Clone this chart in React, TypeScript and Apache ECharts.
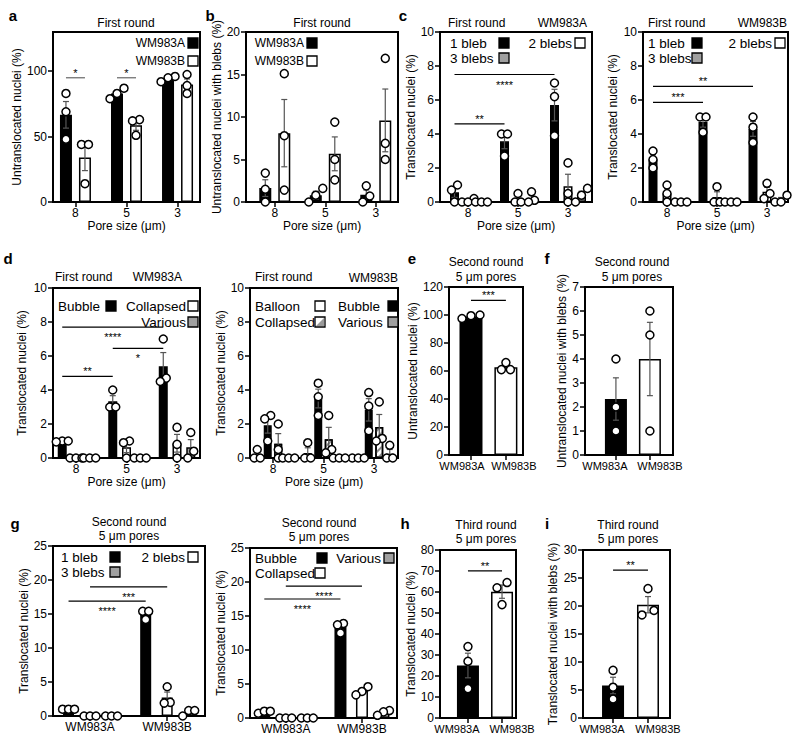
import React, { useEffect, useRef } from 'react';
import * as echarts from 'echarts';

const FONT = '"Liberation Sans", Arial, Helvetica, sans-serif';
const BLACK = '#000000';
const WHITE = '#ffffff';
const GRAY = '#a0a0a0';

// ---------- categories ----------
const poreSizes = ['8', '5', '3'];
const cellLines = ['WM983A', 'WM983B'];

// ---------- tick labels ----------
const ticksA = [0, 50, 100];
const ticksB = [0, 5, 10, 15, 20];
const ticks0to10 = [0, 2, 4, 6, 8, 10];
const ticksE = [0, 20, 40, 60, 80, 100, 120];
const ticksF = [0, 1, 2, 3, 4, 5, 6, 7];
const ticksG = [0, 5, 10, 15, 20, 25];
const ticksH = [0, 10, 20, 30, 40, 50, 60, 70, 80];
const ticksI = [0, 5, 10, 15, 20, 25, 30];

// ---------- replicate values: [category][replicate] ----------
// a: untranslocated nuclei (%)
const aWM983A = [[83, 69, 48], [87, 83, 79], [96, 95, 92]];
const aWM983B = [[44, 44, 14], [63, 62, 51], [97.5, 89, 83]];
// b: untranslocated nuclei with blebs (%)
const bWM983A = [[3.4, 1.5, 0], [1.6, 0.8, 0], [1.9, 0.7, 0]];
const bWM983B = [[15.1, 7.8, 1.4], [9.4, 5.0, 2.6], [16.9, 6.9, 5.0]];
// c: WM983A, translocated nuclei (%)
const cA1bleb = [[1.0, 0.7, 0], [4.0, 4.0, 2.7], [7.0, 6.2, 3.9]];
const cA2blebs = [[0.2, 0, 0], [0.5, 0, 0], [2.3, 0.5, 0]];
const cA3blebs = [[0, 0, 0], [0.6, 0.1, 0], [0.8, 0.4, 0]];
// c: WM983B
const cB1bleb = [[3.0, 2.5, 2.0], [5.0, 5.0, 4.1], [5.0, 4.4, 3.5]];
const cB2blebs = [[1.0, 0.5, 0], [0.9, 0, 0], [1.1, 0.5, 0.2]];
const cB3blebs = [[0, 0, 0], [0, 0, 0], [0.4, 0, 0]];
// d: WM983A
const dABubble = [[1.0, 1.0, 0.95], [4.0, 3.0, 3.0], [7.0, 4.7, 4.5]];
const dACollapsed = [[0, 0, 0], [1.0, 0.9, 0], [1.8, 0.8, 0]];
const dAVarious = [[0, 0, 0], [0, 0, 0], [1.5, 0.4, 0]];
// d: WM983B
const dBBalloon = [[0.5, 0, 0], [0.9, 0, 0], [0, 0, 0]];
const dBBubble = [[2.5, 2.3, 1.0], [4.4, 3.6, 2.5], [3.85, 3.05, 1.6]];
const dBCollapsed = [[2.0, 0.5, 0], [2.5, 0.5, 0.3], [3.3, 1.15, 1.0]];
const dBVarious = [[0, 0, 0], [0, 0, 0], [0.75, 0, 0]];
// e: untranslocated nuclei (%), second round
const eUntranslocated = [[97.5, 100, 99.5], [66, 61, 61]];
// f: untranslocated nuclei with blebs (%), second round
const fWithBlebs = [[4, 2, 1], [6, 5, 1]];
// g: translocated nuclei (%), second round
const g1bleb = [[1.0, 1.0, 1.0], [15.4, 15.4, 14.2]];
const g2blebs = [[0, 0, 0], [4.3, 2.0, 1.9]];
const g3blebs = [[0, 0, 0], [0.8, 0.8, 0]];
const gBubble = [[0.7, 1.0, 1.0], [13.9, 13.7, 12.5]];
const gCollapsed = [[0, 0, 0], [4.6, 3.9, 3.4]];
const gVarious = [[0, 0, 0], [1.1, 0.9, 0.4]];
// h: translocated nuclei (%), third round
const hTranslocated = [[34, 27, 14], [64.5, 62, 54]];
// i: translocated nuclei with blebs (%), third round
const iWithBlebs = [[8.5, 5.5, 3.4], [23.1, 18.4, 19.2]];

type Sig = { from: [number, number]; to: [number, number]; y: number; text: string; below: boolean; color?: string };
type SeriesDef = { name: string; values: number[][]; fill: string | string[]; hatch?: boolean };
type LegendItem = { text: string; x: number; y: number; align: 'left' | 'right'; sq: number; fill: string; hatch?: boolean };
type Panel = {
  left: number; top: number; width: number; height: number;
  xMin: number; xMax: number; yMax: number; yTicks: number[];
  cats: string[]; xName?: string; xLabelSize: number; labelShift?: number[];
  yName: string; yNameX: number;
  barWidth: number; offsets: number[]; jitter: number;
  series: SeriesDef[]; sig: Sig[];
};

const PORE = 'Pore size (μm)';
const TRANS = 'Translocated nuclei (%)';

const panels: Panel[] = [
  { // a
    left: 53, top: 32, width: 147, height: 170, xMin: -0.44, xMax: 2.44, yMax: 130, yTicks: ticksA,
    cats: poreSizes, xName: PORE, xLabelSize: 12, yName: 'Untranslocated nuclei (%)', yNameX: 17,
    barWidth: 12, offsets: [-9.5, 9.5], jitter: 7,
    series: [{ name: 'WM983A', values: aWM983A, fill: BLACK }, { name: 'WM983B', values: aWM983B, fill: WHITE }],
    sig: [
      { from: [0, 0], to: [0, 1], y: 95, text: '*', below: false, color: '#666' },
      { from: [1, 0], to: [1, 1], y: 95, text: '*', below: false, color: '#666' },
    ],
  },
  { // b
    left: 246, top: 32, width: 152, height: 170, xMin: -0.57, xMax: 2.44, yMax: 20, yTicks: ticksB,
    cats: poreSizes, xName: PORE, xLabelSize: 12, yName: 'Untranslocated nuclei with blebs (%)', yNameX: 218,
    barWidth: 12, offsets: [-9.5, 9.5], jitter: 7,
    series: [{ name: 'WM983A', values: bWM983A, fill: BLACK }, { name: 'WM983B', values: bWM983B, fill: WHITE }],
    sig: [],
  },
  { // c left
    left: 440, top: 32, width: 152, height: 170, xMin: -0.56, xMax: 2.48, yMax: 10, yTicks: ticks0to10,
    cats: poreSizes, xName: PORE, xLabelSize: 12, yName: TRANS, yNameX: 417,
    barWidth: 9, offsets: [-13.5, 0, 13.5], jitter: 6,
    series: [
      { name: '1 bleb', values: cA1bleb, fill: BLACK },
      { name: '2 blebs', values: cA2blebs, fill: WHITE },
      { name: '3 blebs', values: cA3blebs, fill: GRAY },
    ],
    sig: [
      { from: [0, 0], to: [2, 0], y: 7.5, text: '****', below: true },
      { from: [0, 0], to: [1, 0], y: 4.6, text: '**', below: false },
    ],
  },
  { // c right
    left: 643, top: 32, width: 145, height: 170, xMin: -0.48, xMax: 2.42, yMax: 10, yTicks: ticks0to10,
    cats: poreSizes, xName: PORE, xLabelSize: 12, yName: TRANS, yNameX: 613,
    barWidth: 9, offsets: [-14, 0, 14], jitter: 6,
    series: [
      { name: '1 bleb', values: cB1bleb, fill: BLACK },
      { name: '2 blebs', values: cB2blebs, fill: WHITE },
      { name: '3 blebs', values: cB3blebs, fill: GRAY },
    ],
    sig: [
      { from: [0, 0], to: [2, 0], y: 6.8, text: '**', below: false },
      { from: [0, 0], to: [1, 0], y: 5.86, text: '***', below: false },
    ],
  },
  { // d left
    left: 53, top: 288, width: 147, height: 170, xMin: -0.455, xMax: 2.455, yMax: 10, yTicks: ticks0to10,
    cats: poreSizes, xName: PORE, xLabelSize: 12, yName: TRANS, yNameX: 22,
    barWidth: 9, offsets: [-13.75, 0, 13.75], jitter: 6,
    series: [
      { name: 'Bubble', values: dABubble, fill: BLACK },
      { name: 'Collapsed', values: dACollapsed, fill: WHITE },
      { name: 'Various', values: dAVarious, fill: GRAY },
    ],
    sig: [
      { from: [0, 0], to: [2, 0], y: 7.7, text: '****', below: true },
      { from: [1, 0], to: [2, 0], y: 6.45, text: '*', below: true },
      { from: [0, 0], to: [1, 0], y: 4.8, text: '**', below: false },
    ],
  },
  { // d right
    left: 250, top: 288, width: 148, height: 170, xMin: -0.455, xMax: 2.475, yMax: 10, yTicks: ticks0to10,
    cats: poreSizes, xName: PORE, xLabelSize: 12, yName: TRANS, yNameX: 224,
    barWidth: 8, offsets: [-15.75, -5.25, 5.25, 15.75], jitter: 6,
    series: [
      { name: 'Balloon', values: dBBalloon, fill: WHITE },
      { name: 'Bubble', values: dBBubble, fill: BLACK },
      { name: 'Collapsed', values: dBCollapsed, fill: WHITE, hatch: true },
      { name: 'Various', values: dBVarious, fill: GRAY },
    ],
    sig: [],
  },
  { // e
    left: 449, top: 287, width: 74, height: 168, xMin: -0.63, xMax: 1.49, yMax: 120, yTicks: ticksE,
    cats: cellLines, xLabelSize: 11, labelShift: [-9, 8], yName: 'Untranslocated nuclei (%)', yNameX: 425,
    barWidth: 23, offsets: [0], jitter: 9,
    series: [{ name: 'cells', values: eUntranslocated, fill: [BLACK, WHITE] }],
    sig: [{ from: [0, 0], to: [1, 0], y: 110.5, text: '***', below: false }],
  },
  { // f
    left: 585, top: 287, width: 88, height: 168, xMin: -0.91, xMax: 1.68, yMax: 7, yTicks: ticksF,
    cats: cellLines, xLabelSize: 11, labelShift: [-11, 10], yName: 'Untranslocated nuclei with blebs (%)', yNameX: 562,
    barWidth: 22, offsets: [0], jitter: 9,
    series: [{ name: 'cells', values: fWithBlebs, fill: [BLACK, WHITE] }],
    sig: [],
  },
  { // g left
    left: 53, top: 546, width: 152, height: 170, xMin: -0.48, xMax: 1.49, yMax: 25, yTicks: ticksG,
    cats: cellLines, xLabelSize: 12, yName: TRANS, yNameX: 25,
    barWidth: 11, offsets: [-21.5, 0, 21.5], jitter: 6,
    series: [
      { name: '1 bleb', values: g1bleb, fill: BLACK },
      { name: '2 blebs', values: g2blebs, fill: WHITE },
      { name: '3 blebs', values: g3blebs, fill: GRAY },
    ],
    sig: [
      { from: [0, 1], to: [1, 1], y: 19.0, text: '***', below: true },
      { from: [0, 0], to: [1, 0], y: 16.9, text: '****', below: true },
    ],
  },
  { // g right
    left: 250, top: 548, width: 147, height: 170, xMin: -0.47, xMax: 1.46, yMax: 25, yTicks: ticksG,
    cats: cellLines, xLabelSize: 12, yName: TRANS, yNameX: 222,
    barWidth: 12, offsets: [-21.5, 0, 21.5], jitter: 6,
    series: [
      { name: 'Bubble', values: gBubble, fill: BLACK },
      { name: 'Collapsed', values: gCollapsed, fill: WHITE },
      { name: 'Various', values: gVarious, fill: GRAY },
    ],
    sig: [
      { from: [0, 1], to: [1, 1], y: 19.4, text: '****', below: true },
      { from: [0, 0], to: [1, 0], y: 17.5, text: '****', below: true },
    ],
  },
  { // h
    left: 440, top: 550, width: 76, height: 168, xMin: -0.82, xMax: 1.41, yMax: 80, yTicks: ticksH,
    cats: cellLines, xLabelSize: 11, labelShift: [-11, 10], yName: TRANS, yNameX: 413,
    barWidth: 22, offsets: [0], jitter: 10,
    series: [{ name: 'cells', values: hTranslocated, fill: [BLACK, WHITE] }],
    sig: [{ from: [0, 0], to: [1, 0], y: 70.1, text: '**', below: false }],
  },
  { // i
    left: 583, top: 550, width: 87, height: 168, xMin: -0.86, xMax: 1.63, yMax: 30, yTicks: ticksI,
    cats: cellLines, xLabelSize: 11, labelShift: [-11, 10], yName: 'Translocated nuclei with blebs (%)', yNameX: 553,
    barWidth: 22, offsets: [0], jitter: 12,
    series: [{ name: 'cells', values: iWithBlebs, fill: [BLACK, WHITE] }],
    sig: [{ from: [0, 0], to: [1, 0], y: 26.4, text: '**', below: false }],
  },
];

// ---------- legends, titles, panel letters (annotation positions) ----------
const legends: { size: number; items: LegendItem[] }[] = [
  { size: 12, items: [
    { text: 'WM983A', x: 185, y: 43, align: 'right', sq: 188, fill: BLACK },
    { text: 'WM983B', x: 185, y: 61, align: 'right', sq: 188, fill: WHITE },
  ] },
  { size: 12, items: [
    { text: 'WM983A', x: 304, y: 43, align: 'right', sq: 307, fill: BLACK },
    { text: 'WM983B', x: 304, y: 61, align: 'right', sq: 307, fill: WHITE },
  ] },
  { size: 13.5, items: [
    { text: '1 bleb', x: 450, y: 43, align: 'left', sq: 499, fill: BLACK },
    { text: '2 blebs', x: 572, y: 43, align: 'right', sq: 575, fill: WHITE },
    { text: '3 blebs', x: 450, y: 58, align: 'left', sq: 499, fill: GRAY },
  ] },
  { size: 13.5, items: [
    { text: '1 bleb', x: 648, y: 43, align: 'left', sq: 692, fill: BLACK },
    { text: '2 blebs', x: 772, y: 43, align: 'right', sq: 775, fill: WHITE },
    { text: '3 blebs', x: 648, y: 58, align: 'left', sq: 692, fill: GRAY },
  ] },
  { size: 13.5, items: [
    { text: 'Bubble', x: 58, y: 306, align: 'left', sq: 106, fill: BLACK },
    { text: 'Collapsed', x: 186, y: 306, align: 'right', sq: 188, fill: WHITE },
    { text: 'Various', x: 186, y: 322, align: 'right', sq: 188, fill: GRAY },
  ] },
  { size: 13.5, items: [
    { text: 'Balloon', x: 255, y: 306, align: 'left', sq: 315, fill: WHITE },
    { text: 'Bubble', x: 338, y: 306, align: 'left', sq: 388, fill: BLACK },
    { text: 'Collapsed', x: 255, y: 322, align: 'left', sq: 315, fill: WHITE, hatch: true },
    { text: 'Various', x: 338, y: 322, align: 'left', sq: 388, fill: GRAY },
  ] },
  { size: 13.5, items: [
    { text: '1 bleb', x: 61, y: 557, align: 'left', sq: 110, fill: BLACK },
    { text: '2 blebs', x: 185, y: 557, align: 'right', sq: 188, fill: WHITE },
    { text: '3 blebs', x: 61, y: 572, align: 'left', sq: 110, fill: GRAY },
  ] },
  { size: 13.5, items: [
    { text: 'Bubble', x: 255, y: 558, align: 'left', sq: 317, fill: BLACK },
    { text: 'Various', x: 381, y: 558, align: 'right', sq: 384, fill: GRAY },
    { text: 'Collapsed', x: 255, y: 573, align: 'left', sq: 315, fill: WHITE },
  ] },
];

const titles: { text: string; x: number; y: number; align: 'left' | 'center' | 'right' }[] = [
  { text: 'First round', x: 126, y: 23, align: 'center' },
  { text: 'First round', x: 322, y: 23, align: 'center' },
  { text: 'First round', x: 448, y: 23, align: 'left' },
  { text: 'WM983A', x: 587, y: 23, align: 'right' },
  { text: 'First round', x: 648, y: 23, align: 'left' },
  { text: 'WM983B', x: 787, y: 23, align: 'right' },
  { text: 'First round', x: 55, y: 277, align: 'left' },
  { text: 'WM983A', x: 182, y: 277, align: 'right' },
  { text: 'First round', x: 255, y: 277, align: 'left' },
  { text: 'WM983B', x: 398, y: 278, align: 'right' },
  { text: 'Second round', x: 486, y: 262, align: 'center' },
  { text: '5 μm pores', x: 486, y: 277, align: 'center' },
  { text: 'Second round', x: 632, y: 262, align: 'center' },
  { text: '5 μm pores', x: 632, y: 277, align: 'center' },
  { text: 'Second round', x: 129, y: 522, align: 'center' },
  { text: '5 μm pores', x: 129, y: 536, align: 'center' },
  { text: 'Second round', x: 319, y: 523, align: 'center' },
  { text: '5 μm pores', x: 319, y: 537, align: 'center' },
  { text: 'Third round', x: 486, y: 525, align: 'center' },
  { text: '5 μm pores', x: 486, y: 539, align: 'center' },
  { text: 'Third round', x: 628, y: 525, align: 'center' },
  { text: '5 μm pores', x: 628, y: 539, align: 'center' },
];

const letters: { text: string; x: number; y: number }[] = [
  { text: 'a', x: 13, y: 15 }, { text: 'b', x: 210, y: 15 }, { text: 'c', x: 403, y: 15 },
  { text: 'd', x: 8, y: 258 }, { text: 'e', x: 412, y: 258 }, { text: 'f', x: 547, y: 258 },
  { text: 'g', x: 15, y: 523 }, { text: 'h', x: 405, y: 523 }, { text: 'i', x: 547, y: 523 },
];

function mean(v: number[]) { return v.reduce((s, x) => s + x, 0) / v.length; }
function sem(v: number[]) {
  const m = mean(v);
  const sd = Math.sqrt(v.reduce((s, x) => s + (x - m) * (x - m), 0) / (v.length - 1));
  return sd / Math.sqrt(v.length);
}
function jitterOffsets(vals: number[], pxPerY: number, spacing: number): number[] {
  const idx = vals.map((_, i) => i).sort((a, b) => vals[a] - vals[b]);
  const offs = vals.map(() => 0);
  let start = 0;
  for (let k = 1; k <= idx.length; k++) {
    if (k === idx.length || (vals[idx[k]] - vals[idx[k - 1]]) * pxPerY >= 7) {
      const n = k - start;
      for (let j = 0; j < n; j++) offs[idx[start + j]] = (j - (n - 1) / 2) * spacing;
      start = k;
    }
  }
  return offs;
}

function buildOption() {
  const grid: any[] = [];
  const xAxis: any[] = [];
  const yAxis: any[] = [];
  const series: any[] = [];

  panels.forEach((p, pi) => {
    const pxPerX = p.width / (p.xMax - p.xMin);
    const pxPerY = p.height / p.yMax;
    const xOf = (c: number, s: number) => c + p.offsets[s] / pxPerX;

    grid.push({ left: p.left, top: p.top, width: p.width, height: p.height, show: true, borderColor: '#000', borderWidth: 2, backgroundColor: 'transparent' });
    const catIdx = p.cats.map((_, c) => c);
    xAxis.push({
      type: 'value', gridIndex: pi, min: p.xMin, max: p.xMax,
      name: p.xName || '', nameLocation: 'middle', nameGap: 18,
      nameTextStyle: { fontSize: 12, color: '#000', fontFamily: FONT },
      axisLine: { show: true, onZero: false, lineStyle: { color: '#000', width: 2 } },
      axisTick: { show: true, length: 5, lineStyle: { color: '#000', width: 1.5 }, customValues: catIdx },
      axisLabel: {
        show: true, fontSize: p.xLabelSize, color: '#000', margin: 5, fontFamily: FONT,
        customValues: catIdx.map((c) => c + (p.labelShift ? p.labelShift[c] : 0) / pxPerX),
        formatter: (v: number) => p.cats[Math.abs(Math.round(v))],
      },
      splitLine: { show: false },
    });
    yAxis.push({
      type: 'value', gridIndex: pi, min: 0, max: p.yMax,
      name: p.yName, nameLocation: 'middle', nameGap: p.left - p.yNameX - 6,
      nameTextStyle: { fontSize: 12, color: '#000', fontFamily: FONT },
      axisLine: { show: true, onZero: false, lineStyle: { color: '#000', width: 2 } },
      axisTick: { show: true, length: 5, lineStyle: { color: '#000', width: 1.5 }, customValues: p.yTicks },
      axisLabel: { show: true, fontSize: 12, color: '#000', margin: 6, fontFamily: FONT, customValues: p.yTicks },
      splitLine: { show: false },
    });

    const errData: number[][] = [];
    const dotData: number[][] = [];
    p.series.forEach((s, si) => {
      const barData = s.values.map((vals, c) => {
        const fill = Array.isArray(s.fill) ? s.fill[c] : s.fill;
        return { value: [xOf(c, si), mean(vals)], itemStyle: { color: fill } };
      });
      series.push({
        type: 'bar', name: s.name, xAxisIndex: pi, yAxisIndex: pi, barWidth: p.barWidth, barGap: '-100%',
        silent: true, z: 2, data: barData,
        itemStyle: Object.assign(
          { borderColor: '#000', borderWidth: 1.5 },
          s.hatch ? { decal: { symbol: 'rect', symbolSize: 1, rotation: -Math.PI / 4, color: '#8c8c8c', dashArrayX: [1, 0], dashArrayY: [2, 3] } } : {}
        ),
      });
      s.values.forEach((vals, c) => {
        const e = sem(vals);
        if (e > 0) errData.push([xOf(c, si), mean(vals), e]);
        const offs = jitterOffsets(vals, pxPerY, p.jitter);
        vals.forEach((v, k) => dotData.push([xOf(c, si) + offs[k] / pxPerX, v]));
      });
    });

    series.push({
      type: 'custom', xAxisIndex: pi, yAxisIndex: pi, z: 3, silent: true,
      encode: { x: 0, y: 1 }, data: errData,
      renderItem: (_params: any, api: any) => {
        const x = api.value(0), m = api.value(1), e = api.value(2);
        const top = api.coord([x, m + e]);
        const bot = api.coord([x, Math.max(0, m - e)]);
        const cap = 3;
        const st = { stroke: '#555', lineWidth: 1.2 };
        return {
          type: 'group', children: [
            { type: 'line', shape: { x1: top[0], y1: top[1], x2: bot[0], y2: bot[1] }, style: st },
            { type: 'line', shape: { x1: top[0] - cap, y1: top[1], x2: top[0] + cap, y2: top[1] }, style: st },
            { type: 'line', shape: { x1: bot[0] - cap, y1: bot[1], x2: bot[0] + cap, y2: bot[1] }, style: st },
          ],
        };
      },
    });

    series.push({
      type: 'scatter', xAxisIndex: pi, yAxisIndex: pi, z: 4, silent: true,
      symbol: 'circle', symbolSize: 8, data: dotData,
      itemStyle: { color: '#fff', borderColor: '#000', borderWidth: 1.5, opacity: 1 },
    });

    if (p.sig.length) {
      series.push({
        type: 'custom', xAxisIndex: pi, yAxisIndex: pi, z: 5, silent: true,
        encode: { x: [0, 1], y: 2 },
        data: p.sig.map((s) => [xOf(s.from[0], s.from[1]), xOf(s.to[0], s.to[1]), s.y]),
        renderItem: (params: any, api: any) => {
          const s = p.sig[params.dataIndex];
          const a = api.coord([api.value(0), api.value(2)]);
          const b = api.coord([api.value(1), api.value(2)]);
          return {
            type: 'group', children: [
              { type: 'line', shape: { x1: a[0], y1: a[1], x2: b[0], y2: b[1] }, style: { stroke: s.color || '#000', lineWidth: 1.2 } },
              { type: 'text', x: (a[0] + b[0]) / 2, y: a[1] + (s.below ? 10 : -5),
                style: { text: s.text, fill: '#000', fontSize: 11, fontFamily: FONT, align: 'center', verticalAlign: 'middle' } },
            ],
          };
        },
      });
    }
  });

  const graphic: any[] = [];
  letters.forEach((l) => graphic.push({ type: 'text', x: l.x, y: l.y, silent: true,
    style: { text: l.text, fill: '#000', fontSize: 15, fontWeight: 'bold', fontFamily: FONT, align: 'center', verticalAlign: 'middle' } }));
  titles.forEach((t) => graphic.push({ type: 'text', x: t.x, y: t.y, silent: true,
    style: { text: t.text, fill: '#000', fontSize: 12, fontFamily: FONT, align: t.align, verticalAlign: 'middle' } }));
  legends.forEach((lg) => lg.items.forEach((it) => {
    graphic.push({ type: 'text', x: it.x, y: it.y, silent: true,
      style: { text: it.text, fill: '#000', fontSize: lg.size, fontFamily: FONT, align: it.align, verticalAlign: 'middle' } });
    graphic.push({ type: 'rect', silent: true, shape: { x: it.sq, y: it.y - 5, width: 10, height: 10 },
      style: { fill: it.fill, stroke: '#000', lineWidth: 1.3 } });
    if (it.hatch) {
      graphic.push({ type: 'polygon', silent: true,
        shape: { points: [[it.sq + 1, it.y + 4], [it.sq + 9, it.y - 4], [it.sq + 9, it.y + 4]] },
        style: { fill: '#9a9a9a' } });
    }
  }));

  return {
    animation: false,
    backgroundColor: '#fff',
    textStyle: { fontFamily: FONT },
    grid, xAxis, yAxis, series, graphic,
  };
}

export default function App() {
  const ref = useRef<HTMLDivElement>(null);
  useEffect(() => {
    if (!ref.current) return;
    const chart = echarts.init(ref.current, undefined, { renderer: 'svg' });
    chart.setOption(buildOption() as any);
    return () => chart.dispose();
  }, []);
  return <div ref={ref} style={{ position: 'absolute', left: 0, top: 0, width: 800, height: 749, background: '#fff' }} />;
}
